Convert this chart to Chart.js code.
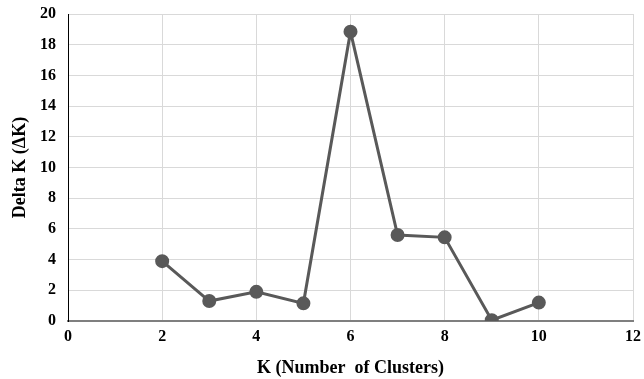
<!DOCTYPE html>
<html>
<head>
<meta charset="utf-8">
<script src="https://cdn.jsdelivr.net/npm/chart.js@4"></script>
<style>
  html, body { margin: 0; padding: 0; background: #fff; }
  #wrap { width: 644px; height: 379px; }
</style>
</head>
<body>
<div id="wrap"><canvas id="deltaChart"></canvas></div>
<script>
// K values and Delta K
const kValues = [2, 3, 4, 5, 6, 7, 8, 9, 10];
const deltaK = [3.9, 1.3, 1.9, 1.15, 18.85, 5.6, 5.45, 0.05, 1.2];

const xTitle = "K (Number  of Clusters)";
const yTitle = "Delta K (\u0394K)";

const serif = "'Liberation Serif', 'Times New Roman', serif";
const lineColor = "#595959";

const points = kValues.map((k, i) => ({ x: k, y: deltaK[i] }));

new Chart(document.getElementById("deltaChart"), {
    type: "scatter",
    data: {
        datasets: [{
            data: points,
            showLine: true,
            borderColor: lineColor,
            backgroundColor: lineColor,
            borderWidth: 3,
            pointRadius: 5.5,
            pointBackgroundColor: lineColor,
            pointBorderColor: lineColor,
            tension: 0
        }]
    },
    options: {
        responsive: true,
        maintainAspectRatio: false,
        animation: false,
        layout: { padding: { left: 0, right: 11, top: 14, bottom: 0 } },
        plugins: {
            legend: { display: false },
            tooltip: { enabled: false }
        },
        scales: {
            x: {
                type: "linear",
                min: 0,
                max: 12,
                ticks: {
                    stepSize: 2,
                    color: "#000",
                    padding: 6,
                    font: { family: serif, size: 16, weight: "bold" }
                },
                grid: {
                    color: "#d9d9d9",
                    drawTicks: false
                },
                border: { color: "#7f7f7f", width: 2 },
                title: {
                    display: true,
                    text: xTitle,
                    color: "#000",
                    padding: { top: 4, bottom: 0 },
                    font: { family: serif, size: 18, weight: "bold" }
                },
                afterFit: scale => {
                    scale.height = 58;
                    scale.paddingLeft = 0;
                    scale.paddingRight = 0;
                }
            },
            y: {
                min: 0,
                max: 20,
                ticks: {
                    stepSize: 2,
                    color: "#000",
                    padding: 12,
                    font: { family: serif, size: 16, weight: "bold" }
                },
                grid: {
                    color: "#d9d9d9",
                    drawTicks: false
                },
                border: { color: "#000", width: 1 },
                title: {
                    display: true,
                    text: yTitle,
                    color: "#000",
                    padding: { top: 10, bottom: 0 },
                    font: { family: serif, size: 18, weight: "bold" }
                },
                afterFit: scale => {
                    scale.width = 68;
                    scale.paddingTop = 0;
                    scale.paddingBottom = 0;
                }
            }
        }
    }
});
</script>
</body>
</html>
